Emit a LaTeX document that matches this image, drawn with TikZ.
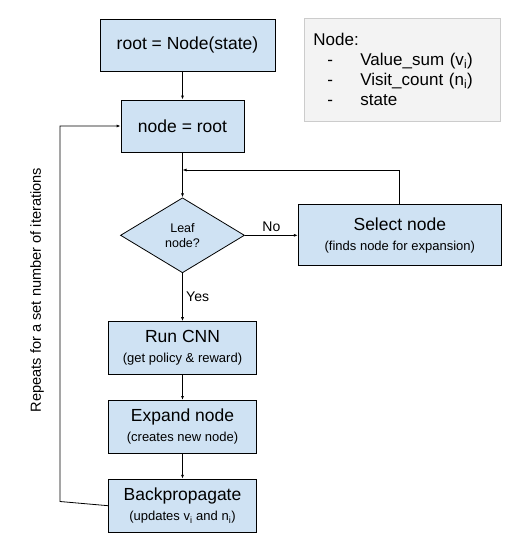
\documentclass[tikz,border=0pt]{standalone}
\usepackage{fontspec}
\setmainfont{Liberation Sans}
\usepackage{xcolor}
\usepackage{tikz}
\usetikzlibrary{positioning, arrows.meta, shapes.geometric}
\definecolor{boxblue}{HTML}{CFE2F3}
\definecolor{notefill}{HTML}{F3F3F3}
\definecolor{noteline}{HTML}{CCCCCC}
\newcommand{\sublabel}[1]{{\fontsize{13}{15}\selectfont #1}}

\begin{document}
\begin{tikzpicture}[
      node distance=25pt and 53pt,
      box/.style={draw, fill=boxblue, align=center, line width=0.8pt, inner sep=0pt, font=\fontsize{17.5}{20}\selectfont},
      wide/.style={box, minimum width=148pt, minimum height=53pt},
      decision/.style={diamond, draw, fill=boxblue, line width=0.8pt, aspect=1.65, minimum width=124pt, minimum height=75pt, inner sep=0pt, align=center, font=\fontsize{12.5}{15}\selectfont},
      note/.style={draw=noteline, fill=notefill, line width=0.8pt, align=left, text width=178pt, inner xsep=9pt, inner ysep=11pt, minimum height=103pt, font=\fontsize{17}{20}\selectfont},
      lbl/.style={font=\fontsize{14}{16}\selectfont},
      arr/.style={-{Latex[length=4pt, width=3pt]}, line width=0.8pt}
    ]
    \useasboundingbox (0,0) rectangle (513pt,-541pt);

    \node[box, minimum width=175pt, minimum height=52pt] (root) at (187.5pt,-45pt) {root = Node(state)};
    \node[box, minimum width=123pt, minimum height=52pt] (noderoot) at (182.5pt,-126pt) {node = root};
    \node[decision, below=45pt of noderoot] (leaf) {Leaf\\node?};
    \node[box, minimum width=203pt, minimum height=61pt, right=53pt of leaf] (select) {Select node\\\sublabel{(finds node for expansion)}};
    \node[wide, below=48pt of leaf] (cnn) {Run CNN\\\sublabel{(get policy \& reward)}};
    \node[wide, below=of cnn] (expand) {Expand node\\\sublabel{(creates new node)}};
    \node[wide, below=of expand] (backprop) {Backpropagate\\\sublabel{(updates v\textsubscript{i} and n\textsubscript{i})}};

    \node[note, anchor=north west] (info) at (304pt,-18pt) {Node:\\
      \makebox[47pt][l]{\hspace{14pt}-}Value\_sum (v\textsubscript{i})\\
      \makebox[47pt][l]{\hspace{14pt}-}Visit\_count (n\textsubscript{i})\\
      \makebox[47pt][l]{\hspace{14pt}-}state};

    \node[lbl, font=\fontsize{14.6}{17}\selectfont, rotate=90] (repeats) at (37pt,-290pt) {Repeats for a set number of iterations};

    \coordinate (merge) at (182.5pt,-170pt);
    \coordinate (loopx) at (60pt,-501.5pt);

    \draw[arr] (root.south -| noderoot.north) -- (noderoot.north);
    \draw[arr] (noderoot) -- (leaf);
    \draw[arr] (leaf) -- node[lbl, above] (no) {No} (select);
    \draw[arr] (leaf) -- node[lbl, right] (yes) {Yes} (cnn);
    \draw[arr] (select.north) |- (merge);
    \draw[arr] (cnn) -- (expand);
    \draw[arr] (expand) -- (backprop);
    \draw[arr] (backprop.west) -- (loopx) |- (noderoot.west);
  \end{tikzpicture}
\end{document}
